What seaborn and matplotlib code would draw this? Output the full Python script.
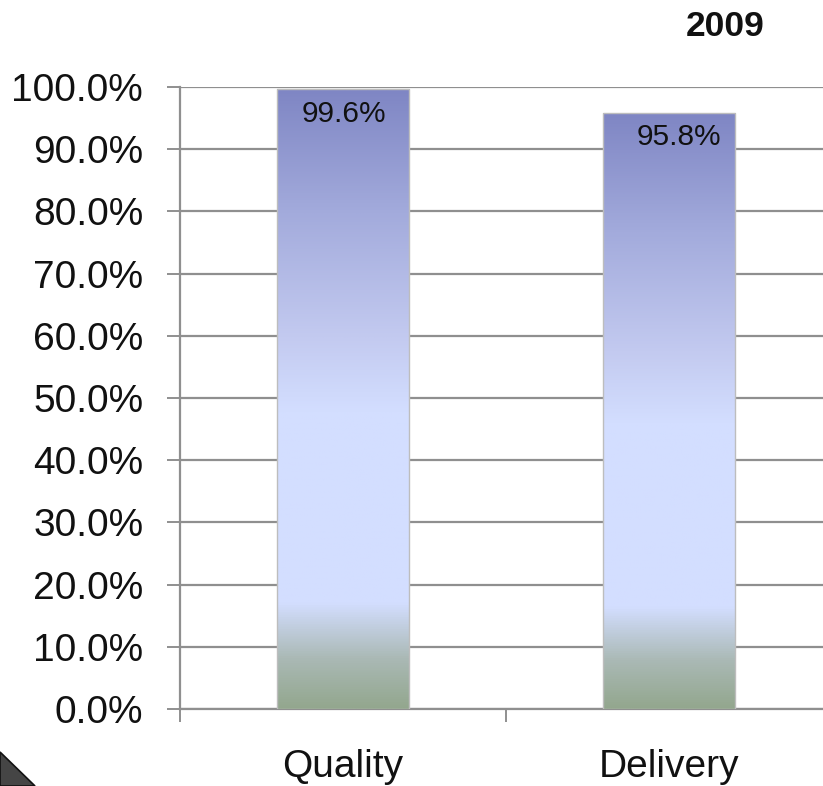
import numpy as np
import pandas as pd
import matplotlib
matplotlib.use("Agg")
import matplotlib.pyplot as plt
from matplotlib.colors import LinearSegmentedColormap
from matplotlib.patches import Polygon
from matplotlib.ticker import FixedLocator, FuncFormatter
import seaborn as sns

# Data
categories = ["Quality", "Delivery"]
values = [99.6, 95.8]
yticks = [0, 10, 20, 30, 40, 50, 60, 70, 80, 90, 100]
title = "2009"

sns.set_theme(style="white")
plt.rcParams["font.family"] = ["Liberation Sans", "DejaVu Sans"]

W, H = 823, 786
fig = plt.figure(figsize=(W / 100, H / 100), dpi=100)
# axes area extends past the right edge of the figure
left, right, bottom, top = 180, 832, 709, 87
ax = fig.add_axes([left / W, 1 - bottom / H, (right - left) / W, (bottom - top) / H])

df = pd.DataFrame({"category": categories, "value": values})
sns.barplot(data=df, x="category", y="value", ax=ax, width=0.405,
            color="white", edgecolor="#bdbdbd", linewidth=1.0, zorder=3)

# vertical gradient fill for each bar
grad = LinearSegmentedColormap.from_list("bar", [
    (0.00, "#93a78e"),
    (0.08, "#aab9b5"),
    (0.17, "#d3deff"),
    (0.48, "#d3deff"),
    (0.60, "#c3caf0"),
    (0.80, "#a3abdc"),
    (1.00, "#7f86c4"),
])
g = np.linspace(0, 1, 512).reshape(-1, 1)
for bar in ax.patches:
    x0, h, w = bar.get_x(), bar.get_height(), bar.get_width()
    im = ax.imshow(g, cmap=grad, origin="lower", aspect="auto",
                   extent=(x0, x0 + w, 0, h), zorder=3.5, interpolation="bilinear")
    im.set_clip_path(bar)
    bar.set_zorder(4)
    bar.set_facecolor("none")
ax.set_xlim(-0.5, 1.5)
ax.set_ylim(0, 100)

# value labels inside the top of each bar
label_dx = [1, 7]
for i, v in enumerate(values):
    ax.annotate(f"{v:.1f}%", (i, v), xytext=(label_dx[i], -17.5),
                textcoords="offset points", ha="center", va="center",
                fontsize=21.5, color="#111111", zorder=5)

# grid and axes
ax.yaxis.set_major_locator(FixedLocator(yticks))
ax.yaxis.set_major_formatter(FuncFormatter(lambda v, p: f"{v:.1f}%"))
ax.grid(axis="y", color="#8f8f8f", linewidth=1.6, zorder=1)
ax.set_axisbelow(True)
for s in ["top", "right"]:
    ax.spines[s].set_visible(False)
for s in ["left", "bottom"]:
    ax.spines[s].set_color("#8f8f8f")
    ax.spines[s].set_linewidth(1.6)

ax.tick_params(axis="y", which="major", left=True, length=9.5, width=1.4,
               color="#8f8f8f", pad=17, labelsize=28, labelcolor="#111111")

# category ticks at the boundaries, names centred under each bar
ax.xaxis.set_major_locator(FixedLocator([-0.5, 0.5, 1.5]))
ax.xaxis.set_minor_locator(FixedLocator([0, 1]))
ax.set_xticklabels(["", "", ""])
ax.set_xticklabels(categories, minor=True)
ax.tick_params(axis="x", which="major", bottom=True, length=9, width=1.4,
               color="#8f8f8f")
ax.tick_params(axis="x", which="minor", bottom=True, length=0, pad=28.5,
               labelsize=28, labelcolor="#111111")
ax.set_xlabel("")
ax.set_ylabel("")

fig.text(725 / W, 1 - 27 / H, title, ha="center", va="center",
         fontsize=25.5, fontweight="bold", color="#111111")

# corner decoration
tri = Polygon([(0, 1 - 752 / H), (35 / W, 0), (0, 0)], closed=True,
              transform=fig.transFigure, facecolor="#454545",
              edgecolor="#111111", linewidth=1.2)
fig.patches.append(tri)

fig.savefig("out.png", dpi=100)
